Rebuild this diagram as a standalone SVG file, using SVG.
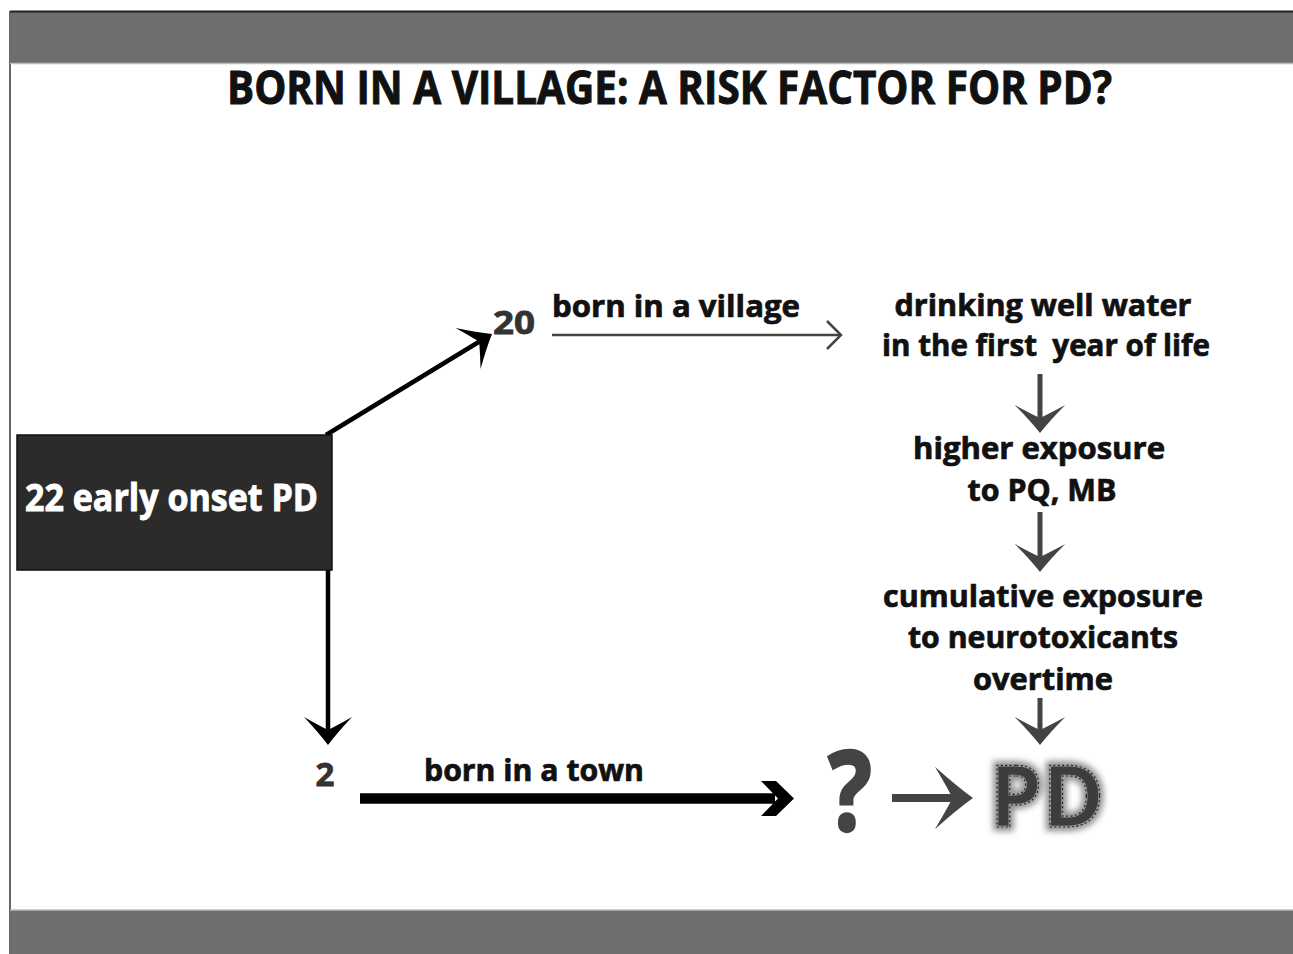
<svg xmlns="http://www.w3.org/2000/svg" xmlns:xlink="http://www.w3.org/1999/xlink" width="1293" height="954" viewBox="0 0 1293 954">
  <style>
    .t { font-family: "Open Sans", "Liberation Sans", sans-serif; font-weight: 700; }
    .lbl { font-size: 30px; fill: #111; stroke: #111; stroke-width: 0.7px; }
    .num { font-size: 33px; fill: #333; stroke: #333; stroke-width: 0.8px; }
    .shaftK { stroke: #000; stroke-width: 4.5; fill: none; }
    .shaftG { stroke: #444; stroke-width: 5; fill: none; }
  </style>
  <defs>
    <path id="head" d="M0,0 Q-12,-9 -28,-24 Q-20,-10 -15,0 Q-20,10 -28,24 Q-12,9 0,0 Z"/>
    <filter id="glow" x="-20%" y="-20%" width="140%" height="140%">
      <feGaussianBlur stdDeviation="3"/>
    </filter>
  </defs>

  <rect x="0" y="0" width="1293" height="954" fill="#ffffff"/>

  <!-- frame and bars -->
  <g id="frame">
    <line x1="10" y1="11" x2="10" y2="954" stroke="#333" stroke-width="1.5"/>
    <rect x="10" y="11" width="1283" height="52" fill="#6e6e6e"/>
    <line x1="10" y1="11.5" x2="1293" y2="11.5" stroke="#222" stroke-width="2"/>
    <line x1="10" y1="63.5" x2="1293" y2="63.5" stroke="#bdbdbd" stroke-width="1.5"/>
    <rect x="10" y="910" width="1283" height="44" fill="#6e6e6e"/>
    <line x1="10" y1="910" x2="1293" y2="910" stroke="#bdbdbd" stroke-width="1.5"/>
  </g>

  <g id="title">
    <text class="t" x="669.5" y="104" font-size="46" fill="#111" stroke="#111" stroke-width="1" text-anchor="middle" textLength="885" lengthAdjust="spacingAndGlyphs">BORN IN A VILLAGE: A RISK FACTOR FOR PD?</text>
  </g>

  <!-- connectors -->
  <g id="connectors">
    <!-- box to 20 -->
    <line class="shaftK" x1="326" y1="435" x2="479.5" y2="341.5"/>
    <use xlink:href="#head" href="#head" fill="#000" transform="translate(492,334) rotate(-31.3)"/>
    <!-- box to 2 -->
    <line class="shaftK" x1="328" y1="570" x2="328" y2="731"/>
    <use xlink:href="#head" href="#head" fill="#000" transform="translate(328,745) rotate(90)"/>
    <!-- born in a village -->
    <line x1="552" y1="335" x2="840" y2="335" stroke="#444" stroke-width="2.5"/>
    <polyline points="827,321 841,335 827,349" fill="none" stroke="#444" stroke-width="2.5"/>
    <!-- right column -->
    <line class="shaftG" x1="1040" y1="374" x2="1040" y2="420"/>
    <use xlink:href="#head" href="#head" fill="#444" transform="translate(1040,433) rotate(90) scale(1,1.05)"/>
    <line class="shaftG" x1="1040" y1="512" x2="1040" y2="559"/>
    <use xlink:href="#head" href="#head" fill="#444" transform="translate(1040,572) rotate(90) scale(1,1.05)"/>
    <line class="shaftG" x1="1040" y1="698" x2="1040" y2="732"/>
    <use xlink:href="#head" href="#head" fill="#444" transform="translate(1040,745) rotate(90) scale(1,1.05)"/>
    <!-- born in a town -->
    <line x1="360" y1="798.5" x2="775" y2="798.5" stroke="#000" stroke-width="10.5"/>
    <polygon points="761,781 776,781 794,798.5 776,816 761,816 778,798.5" fill="#000"/>
    <!-- ? to PD -->
    <line x1="892" y1="798" x2="955" y2="798" stroke="#444" stroke-width="8"/>
    <use xlink:href="#head" href="#head" fill="#444" transform="translate(973,798) scale(1.36,1.3)"/>
  </g>

  <g id="node-22">
    <rect x="17" y="435" width="315" height="135" fill="#2b2b2b" stroke="#111" stroke-width="1.5"/>
    <text class="t" x="171.5" y="511" font-size="37" fill="#fff" stroke="#fff" stroke-width="0.9" text-anchor="middle" textLength="293" lengthAdjust="spacingAndGlyphs">22 early onset PD</text>
  </g>

  <g id="node-20">
    <text class="t num" x="514" y="334" text-anchor="middle" textLength="42" lengthAdjust="spacingAndGlyphs">20</text>
  </g>

  <g id="label-village">
    <text class="t lbl" x="552" y="317" textLength="248" lengthAdjust="spacingAndGlyphs">born in a village</text>
  </g>

  <g id="node-well-water">
    <text class="t lbl" x="1043" y="316" text-anchor="middle" textLength="297" lengthAdjust="spacingAndGlyphs">drinking well water</text>
    <text class="t lbl" x="1046" y="356" text-anchor="middle" textLength="328" lengthAdjust="spacingAndGlyphs" style="white-space:pre">in the first  year of life</text>
  </g>

  <g id="node-higher-exposure">
    <text class="t lbl" x="1039" y="459" text-anchor="middle" textLength="252" lengthAdjust="spacingAndGlyphs">higher exposure</text>
    <text class="t lbl" x="1042" y="501" text-anchor="middle" textLength="149" lengthAdjust="spacingAndGlyphs">to PQ, MB</text>
  </g>

  <g id="node-cumulative">
    <text class="t lbl" x="1043" y="607" text-anchor="middle" textLength="320" lengthAdjust="spacingAndGlyphs">cumulative exposure</text>
    <text class="t lbl" x="1043" y="648" text-anchor="middle" textLength="270" lengthAdjust="spacingAndGlyphs">to neurotoxicants</text>
    <text class="t lbl" x="1043" y="690" text-anchor="middle" textLength="140" lengthAdjust="spacingAndGlyphs">overtime</text>
  </g>

  <g id="node-2">
    <text class="t num" x="325" y="786" text-anchor="middle">2</text>
  </g>

  <g id="label-town">
    <text class="t lbl" x="424" y="781" textLength="220" lengthAdjust="spacingAndGlyphs">born in a town</text>
  </g>

  <g id="node-question">
    <text class="t" x="850" y="831" font-size="112" fill="#444" stroke="#444" stroke-width="2.5" text-anchor="middle" textLength="44" lengthAdjust="spacingAndGlyphs">?</text>
  </g>

  <g id="node-PD">
    <text class="t" x="1047" y="827" font-size="86" text-anchor="middle" textLength="115" lengthAdjust="spacingAndGlyphs" fill="none" stroke="#8a8a8a" stroke-width="8" filter="url(#glow)">PD</text>
    <text class="t" x="1047" y="827" font-size="86" text-anchor="middle" textLength="115" lengthAdjust="spacingAndGlyphs" fill="#3d3d3d" stroke="#9c9c9c" stroke-width="2.5">PD</text>
    <text class="t" x="1047" y="827" font-size="86" text-anchor="middle" textLength="115" lengthAdjust="spacingAndGlyphs" fill="none" stroke="#1e1e1e" stroke-width="1.2" stroke-dasharray="2 2.5">PD</text>
  </g>
</svg>
